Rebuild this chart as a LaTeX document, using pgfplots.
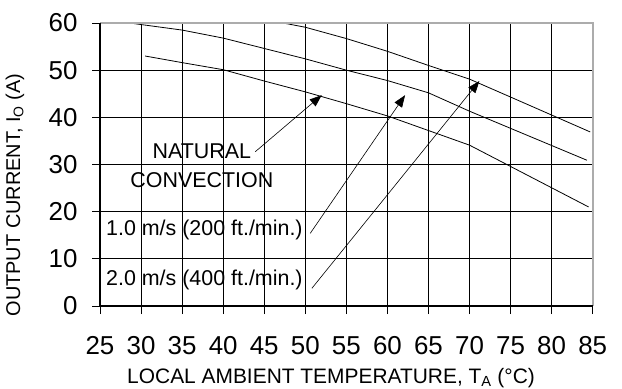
\documentclass[border=0pt]{standalone}
\usepackage{fontspec}
\setmainfont{Liberation Sans}
\usepackage{pgfplots}
\pgfplotsset{compat=1.18}
\usetikzlibrary{arrows.meta}
\begin{document}
\begin{tikzpicture}
\begin{axis}[
  scale only axis, width=492.7bp, height=283bp,
  xmin=25, xmax=85, ymin=0, ymax=60,
  xtick={25,30,...,85}, ytick={0,10,...,60},
  grid=major, grid style={black, line width=0.7bp},
  axis line style={draw=none},
  tick pos=left, tick align=outside, major tick length=8bp,
  tick style={black, line width=0.9bp},
  ticklabel style={font=\fontsize{26}{26}\selectfont},
  xticklabel style={yshift=-19bp},
  yticklabel style={xshift=-11bp},
  /pgf/number format/assume math mode=true,
  clip=false,
]
% curves
\addplot[black, line width=0.8bp] coordinates {
 (30.5,53) (35,51.6) (40,50.1) (45,47.7) (50,45.4) (55,42.9) (60,40.3) (65,37.2) (70,34.1) (84.5,21.0)};
\addplot[black, line width=0.8bp] coordinates {
 (28.6,60) (35,58.5) (40,56.8) (45,54.6) (50,52.4) (55,50.0) (60,47.8) (65,45.2) (70,41.3) (84.3,30.9)};
\addplot[black, line width=0.8bp] coordinates {
 (47.3,60) (50,59.1) (55,56.7) (60,54.0) (65,51.0) (70,48.1) (75,44.3) (84.7,36.9)};
% borders
\draw[gray!65, line width=1.6bp] (rel axis cs:0,1) -- (rel axis cs:1,1) -- (rel axis cs:1,0);
\draw[black, line width=1.2bp] (rel axis cs:0,1) -- (rel axis cs:0,0) -- (rel axis cs:1,0);
% annotations
\node[anchor=base, font=\fontsize{21.5}{21.5}\selectfont, inner sep=0pt] at (axis cs:37.4,31.3) {NATURAL};
\node[anchor=base, font=\fontsize{21.5}{21.5}\selectfont, inner sep=0pt] at (axis cs:37.4,25.15) {CONVECTION};
\node[anchor=base west, font=\fontsize{21.5}{21.5}\selectfont, inner sep=0pt] at (axis cs:25.73,14.9) {1.0 m/s (200 ft./min.)};
\node[anchor=base west, font=\fontsize{21.5}{21.5}\selectfont, inner sep=0pt] at (axis cs:25.73,4.3) {2.0 m/s (400 ft./min.)};
\draw[black, line width=0.6bp, -{Triangle[length=12bp,width=9bp]}] (axis cs:43.9,32.7) -- (axis cs:52.0,44.7);
\draw[black, line width=0.6bp, -{Triangle[length=12bp,width=9bp]}] (axis cs:50.6,15.4) -- (axis cs:62.15,44.7);
\draw[black, line width=0.6bp, -{Triangle[length=12bp,width=9bp]}] (axis cs:50.8,3.75) -- (axis cs:71.2,47.7);
\coordinate (bl) at (rel axis cs:0,0);
\coordinate (tr) at (rel axis cs:1,1);
\coordinate (xl) at (rel axis cs:0.469,0);
\coordinate (yl) at (rel axis cs:0,0.392);
\end{axis}
% axis labels
\node[anchor=base, font=\fontsize{21}{21}\selectfont, inner sep=0pt] at ([yshift=-77bp]xl) {LOCAL AMBIENT TEMPERATURE, T\textsubscript{A} (°C)};
\node[rotate=90, anchor=center, font=\fontsize{20}{20}\selectfont, inner sep=0pt] at ([xshift=-85bp]yl) {OUTPUT CURRENT, I\textsubscript{O} (A)};
% bounding box
\path ([shift={(-100bp,-82bp)}]bl) rectangle ([shift={(29.3bp,23bp)}]tr);
\end{tikzpicture}
\end{document}
